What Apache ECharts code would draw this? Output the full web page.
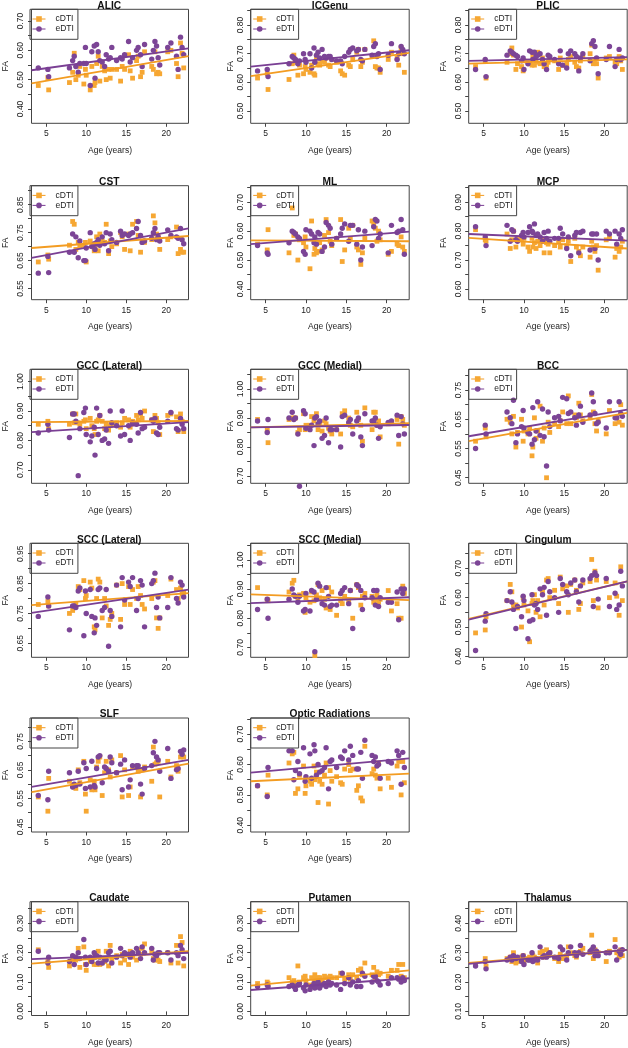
<!DOCTYPE html>
<html><head><meta charset="utf-8">
<script src="https://cdn.jsdelivr.net/npm/echarts@6/dist/echarts.min.js"></script>
<style>html,body{margin:0;padding:0;background:#fff}#c{width:628px;height:1048px}</style>
</head><body><div id="c"></div>
<script>
// ---- DATA ----
const ages = [4.0,5.2,5.3,7.9,8.3,8.5,8.7,9.0,9.2,9.7,9.9,10.0,10.5,10.7,11.0,11.1,11.3,11.5,11.7,12.0,12.3,12.5,12.8,13.0,13.2,13.8,14.3,14.5,14.8,15.3,15.5,15.8,16.3,16.5,16.8,17.0,17.3,18.2,18.4,18.6,18.8,19.0,19.2,20.2,20.6,21.3,21.5,21.8,22.0,22.2];
const titles = ['ALIC','ICGenu','PLIC','CST','ML','MCP','GCC (Lateral)','GCC (Medial)','BCC','SCC (Lateral)','SCC (Medial)','Cingulum','SLF','Optic Radiations','Caudate','Putamen','Thalamus'];
const seriesNames = ['cDTI','eDTI'];
const xTicks = [5,10,15,20];
const xMin = 3.15, xMax = 22.8;
const yMin = [0.351,0.457,0.457,0.51,0.363,0.563,0.654,0.675,0.431,0.603,0.666,0.397,0.432,0.378,-0.014,-0.014,0.086];
const yMax = [0.740,0.855,0.855,0.918,0.757,0.957,1.042,1.068,0.821,0.985,1.057,0.785,0.832,0.753,0.374,0.374,0.474];
const cFitL = [0.487,0.622,0.665,0.695,0.568,0.777,0.862,0.868,0.575,0.778,0.882,0.528,0.572,0.545,0.163,0.088,0.265];
const cFitR = [0.580,0.703,0.680,0.738,0.565,0.740,0.866,0.882,0.672,0.818,0.862,0.655,0.672,0.570,0.205,0.140,0.310];
const eFitL = [0.532,0.655,0.675,0.660,0.555,0.790,0.828,0.868,0.592,0.752,0.852,0.525,0.590,0.573,0.178,0.073,0.262];
const eFitR = [0.607,0.712,0.688,0.765,0.598,0.767,0.862,0.876,0.683,0.830,0.872,0.655,0.685,0.620,0.200,0.113,0.310];

const ALIC_c = [0.48,0.507,0.465,0.49,0.525,0.59,0.50,0.515,0.545,0.485,0.535,0.515,0.465,0.545,0.48,0.49,0.555,0.58,0.495,0.545,0.53,0.50,0.535,0.505,0.535,0.535,0.495,0.545,0.535,0.585,0.53,0.505,0.565,0.58,0.51,0.525,0.595,0.545,0.535,0.595,0.52,0.525,0.52,0.595,0.60,0.555,0.51,0.625,0.59,0.54];
const ALIC_e = [0.54,0.535,0.51,0.54,0.565,0.58,0.545,0.525,0.555,0.555,0.61,0.555,0.48,0.595,0.615,0.505,0.62,0.595,0.565,0.56,0.545,0.585,0.57,0.575,0.61,0.565,0.575,0.57,0.585,0.63,0.56,0.575,0.60,0.61,0.585,0.545,0.62,0.57,0.60,0.63,0.615,0.575,0.55,0.61,0.625,0.58,0.535,0.645,0.61,0.585];
const ICGenu_c = [0.615,0.63,0.575,0.61,0.665,0.695,0.67,0.625,0.66,0.63,0.655,0.645,0.635,0.66,0.63,0.625,0.685,0.665,0.66,0.675,0.67,0.685,0.66,0.655,0.68,0.67,0.64,0.63,0.625,0.66,0.655,0.68,0.705,0.715,0.655,0.67,0.715,0.69,0.745,0.655,0.65,0.65,0.635,0.68,0.705,0.685,0.66,0.72,0.70,0.635];
const ICGenu_e = [0.64,0.645,0.62,0.665,0.69,0.685,0.68,0.665,0.675,0.70,0.68,0.67,0.70,0.65,0.72,0.67,0.695,0.705,0.685,0.715,0.69,0.685,0.69,0.69,0.68,0.675,0.675,0.665,0.69,0.705,0.715,0.72,0.71,0.715,0.68,0.675,0.715,0.695,0.725,0.735,0.69,0.70,0.645,0.695,0.735,0.68,0.70,0.725,0.715,0.70];
const PLIC_c = [0.655,0.675,0.615,0.67,0.70,0.72,0.695,0.645,0.665,0.655,0.64,0.675,0.67,0.665,0.66,0.69,0.66,0.67,0.705,0.665,0.685,0.655,0.66,0.67,0.68,0.675,0.645,0.685,0.66,0.665,0.68,0.69,0.67,0.655,0.65,0.675,0.69,0.70,0.73,0.665,0.68,0.665,0.615,0.685,0.69,0.67,0.665,0.69,0.675,0.645];
const PLIC_e = [0.645,0.68,0.62,0.695,0.71,0.705,0.70,0.695,0.69,0.675,0.685,0.645,0.665,0.71,0.705,0.68,0.705,0.69,0.695,0.70,0.68,0.665,0.645,0.695,0.69,0.68,0.665,0.71,0.66,0.65,0.70,0.71,0.70,0.69,0.64,0.685,0.70,0.675,0.735,0.745,0.725,0.685,0.63,0.68,0.725,0.655,0.68,0.715,0.68,0.685];
const CST_c = [0.645,0.67,0.655,0.705,0.79,0.78,0.69,0.715,0.70,0.705,0.715,0.645,0.72,0.70,0.685,0.70,0.735,0.685,0.745,0.72,0.715,0.78,0.675,0.72,0.70,0.71,0.75,0.735,0.69,0.745,0.685,0.78,0.79,0.74,0.68,0.72,0.715,0.725,0.81,0.785,0.745,0.74,0.69,0.725,0.735,0.77,0.675,0.69,0.68,0.68];
const CST_e = [0.605,0.665,0.607,0.68,0.745,0.68,0.735,0.66,0.72,0.65,0.65,0.695,0.75,0.70,0.71,0.69,0.715,0.725,0.705,0.735,0.71,0.75,0.685,0.745,0.725,0.715,0.755,0.74,0.745,0.74,0.745,0.75,0.765,0.79,0.74,0.715,0.72,0.73,0.75,0.765,0.725,0.735,0.72,0.76,0.74,0.735,0.73,0.765,0.725,0.71];
const ML_c = [0.555,0.535,0.605,0.525,0.68,0.585,0.59,0.50,0.57,0.56,0.58,0.545,0.47,0.635,0.52,0.54,0.525,0.53,0.56,0.535,0.585,0.64,0.595,0.565,0.55,0.575,0.64,0.495,0.535,0.61,0.575,0.62,0.545,0.535,0.485,0.525,0.575,0.635,0.625,0.61,0.565,0.60,0.57,0.52,0.53,0.555,0.55,0.58,0.545,0.53];
const ML_e = [0.55,0.525,0.52,0.56,0.60,0.595,0.59,0.58,0.575,0.53,0.52,0.605,0.60,0.59,0.56,0.58,0.555,0.595,0.59,0.53,0.545,0.63,0.62,0.61,0.555,0.575,0.59,0.61,0.625,0.565,0.62,0.62,0.555,0.605,0.50,0.545,0.60,0.55,0.615,0.64,0.635,0.575,0.59,0.525,0.62,0.595,0.60,0.64,0.605,0.52];
const MCP_c = [0.805,0.77,0.765,0.79,0.74,0.77,0.80,0.745,0.775,0.77,0.755,0.775,0.745,0.73,0.775,0.745,0.76,0.74,0.765,0.75,0.77,0.725,0.76,0.755,0.725,0.75,0.765,0.745,0.77,0.75,0.765,0.695,0.775,0.745,0.73,0.715,0.745,0.71,0.765,0.745,0.73,0.75,0.665,0.77,0.775,0.71,0.74,0.73,0.745,0.765];
const MCP_e = [0.815,0.78,0.75,0.82,0.765,0.805,0.80,0.77,0.765,0.785,0.795,0.78,0.795,0.815,0.80,0.795,0.825,0.785,0.79,0.78,0.765,0.795,0.775,0.80,0.765,0.775,0.775,0.81,0.79,0.74,0.78,0.715,0.785,0.795,0.725,0.795,0.80,0.735,0.79,0.79,0.74,0.79,0.70,0.80,0.79,0.80,0.755,0.79,0.775,0.805];
const GCCL_c = [0.855,0.865,0.84,0.855,0.89,0.86,0.89,0.86,0.855,0.865,0.87,0.84,0.875,0.85,0.84,0.82,0.865,0.87,0.885,0.865,0.84,0.855,0.835,0.85,0.855,0.86,0.845,0.86,0.875,0.87,0.845,0.865,0.885,0.87,0.89,0.875,0.90,0.87,0.83,0.885,0.875,0.86,0.82,0.885,0.89,0.88,0.83,0.89,0.865,0.83];
const GCCL_e = [0.825,0.855,0.835,0.81,0.89,0.89,0.865,0.68,0.84,0.895,0.91,0.82,0.795,0.815,0.845,0.75,0.91,0.82,0.885,0.80,0.805,0.835,0.79,0.90,0.86,0.85,0.815,0.90,0.82,0.85,0.80,0.86,0.855,0.825,0.895,0.84,0.845,0.87,0.865,0.875,0.825,0.82,0.845,0.865,0.895,0.84,0.835,0.875,0.855,0.84];
const GCCM_c = [0.895,0.86,0.815,0.895,0.90,0.90,0.90,0.85,0.86,0.915,0.86,0.875,0.875,0.905,0.89,0.90,0.915,0.86,0.885,0.855,0.89,0.88,0.865,0.855,0.845,0.86,0.845,0.915,0.925,0.90,0.875,0.87,0.92,0.895,0.875,0.82,0.935,0.86,0.92,0.92,0.875,0.89,0.835,0.88,0.885,0.895,0.81,0.905,0.895,0.875];
const GCCM_e = [0.89,0.85,0.895,0.90,0.92,0.895,0.90,0.845,0.665,0.925,0.915,0.865,0.86,0.875,0.805,0.90,0.905,0.88,0.89,0.83,0.84,0.90,0.815,0.86,0.86,0.86,0.80,0.905,0.91,0.885,0.895,0.845,0.89,0.90,0.835,0.805,0.915,0.89,0.89,0.90,0.875,0.83,0.87,0.885,0.89,0.91,0.84,0.905,0.88,0.845];
const BCC_c = [0.575,0.62,0.59,0.65,0.64,0.60,0.66,0.555,0.605,0.65,0.575,0.61,0.60,0.62,0.525,0.555,0.655,0.585,0.61,0.695,0.575,0.62,0.45,0.64,0.605,0.635,0.625,0.645,0.675,0.635,0.73,0.635,0.665,0.655,0.705,0.665,0.645,0.655,0.735,0.675,0.635,0.61,0.645,0.60,0.68,0.635,0.655,0.64,0.70,0.63];
const BCC_e = [0.55,0.63,0.60,0.675,0.655,0.635,0.715,0.57,0.60,0.625,0.68,0.62,0.605,0.60,0.565,0.69,0.58,0.61,0.71,0.595,0.685,0.59,0.49,0.675,0.625,0.655,0.66,0.645,0.725,0.72,0.67,0.675,0.655,0.63,0.665,0.695,0.64,0.665,0.74,0.71,0.67,0.635,0.64,0.62,0.71,0.655,0.655,0.71,0.67,0.66];
const SCCL_c = [0.78,0.79,0.775,0.75,0.76,0.77,0.78,0.84,0.83,0.86,0.80,0.81,0.855,0.835,0.705,0.695,0.80,0.865,0.855,0.735,0.80,0.775,0.71,0.73,0.75,0.845,0.73,0.85,0.78,0.84,0.78,0.83,0.80,0.84,0.81,0.78,0.765,0.80,0.855,0.86,0.735,0.70,0.735,0.81,0.865,0.83,0.80,0.835,0.815,0.82];
const SCCL_e = [0.74,0.805,0.775,0.695,0.775,0.775,0.77,0.825,0.835,0.675,0.825,0.75,0.83,0.74,0.685,0.735,0.71,0.83,0.835,0.76,0.77,0.83,0.64,0.76,0.74,0.845,0.705,0.87,0.795,0.855,0.84,0.87,0.76,0.80,0.86,0.845,0.705,0.85,0.86,0.885,0.77,0.805,0.735,0.77,0.87,0.80,0.785,0.855,0.845,0.805];
const SCCM_c = [0.905,0.865,0.86,0.89,0.92,0.93,0.875,0.87,0.88,0.885,0.82,0.87,0.855,0.89,0.86,0.672,0.88,0.915,0.87,0.895,0.865,0.835,0.905,0.83,0.89,0.81,0.86,0.85,0.875,0.86,0.895,0.80,0.915,0.905,0.845,0.875,0.885,0.875,0.855,0.865,0.88,0.855,0.865,0.895,0.825,0.85,0.80,0.80,0.91,0.885];
const SCCM_e = [0.83,0.865,0.80,0.865,0.90,0.88,0.875,0.855,0.875,0.825,0.83,0.885,0.825,0.895,0.89,0.685,0.865,0.92,0.91,0.85,0.845,0.905,0.875,0.84,0.845,0.845,0.885,0.895,0.905,0.85,0.895,0.765,0.915,0.91,0.895,0.83,0.87,0.87,0.895,0.845,0.895,0.84,0.87,0.855,0.855,0.89,0.795,0.90,0.885,0.90];
const CING_c = [0.48,0.49,0.535,0.59,0.645,0.62,0.575,0.575,0.565,0.50,0.60,0.575,0.555,0.45,0.58,0.59,0.61,0.55,0.59,0.535,0.62,0.575,0.66,0.665,0.60,0.625,0.58,0.67,0.63,0.64,0.55,0.645,0.66,0.625,0.56,0.58,0.65,0.655,0.73,0.59,0.69,0.66,0.565,0.655,0.60,0.65,0.605,0.54,0.705,0.59];
const CING_e = [0.42,0.52,0.545,0.59,0.62,0.585,0.56,0.495,0.57,0.535,0.605,0.59,0.46,0.52,0.61,0.525,0.575,0.58,0.56,0.63,0.61,0.635,0.54,0.655,0.62,0.60,0.55,0.665,0.645,0.62,0.61,0.65,0.66,0.62,0.585,0.64,0.66,0.665,0.675,0.57,0.685,0.675,0.595,0.665,0.57,0.615,0.56,0.575,0.69,0.64];
const SLF_c = [0.555,0.505,0.62,0.61,0.595,0.59,0.585,0.65,0.605,0.68,0.565,0.505,0.615,0.58,0.61,0.58,0.66,0.68,0.695,0.56,0.64,0.68,0.65,0.625,0.685,0.64,0.70,0.555,0.65,0.56,0.59,0.66,0.66,0.645,0.555,0.65,0.66,0.61,0.73,0.67,0.675,0.68,0.555,0.68,0.625,0.665,0.645,0.695,0.70,0.695];
const SLF_e = [0.56,0.545,0.645,0.64,0.59,0.60,0.595,0.645,0.60,0.675,0.585,0.655,0.59,0.68,0.595,0.59,0.655,0.695,0.70,0.605,0.66,0.655,0.645,0.695,0.675,0.64,0.67,0.58,0.685,0.59,0.615,0.665,0.665,0.665,0.60,0.565,0.655,0.665,0.71,0.75,0.695,0.685,0.645,0.725,0.62,0.65,0.655,0.715,0.705,0.72];
const OPT_c = [0.53,0.50,0.565,0.605,0.635,0.64,0.505,0.52,0.565,0.595,0.505,0.53,0.545,0.535,0.595,0.55,0.575,0.475,0.545,0.535,0.565,0.605,0.47,0.58,0.545,0.56,0.54,0.535,0.585,0.60,0.58,0.585,0.515,0.53,0.49,0.48,0.66,0.57,0.585,0.565,0.555,0.605,0.52,0.555,0.525,0.595,0.61,0.50,0.61,0.54];
const OPT_e = [0.53,0.495,0.59,0.645,0.645,0.55,0.58,0.61,0.57,0.655,0.545,0.56,0.635,0.555,0.665,0.645,0.565,0.60,0.575,0.58,0.59,0.655,0.52,0.61,0.615,0.59,0.625,0.62,0.645,0.615,0.66,0.63,0.585,0.585,0.64,0.555,0.68,0.63,0.61,0.625,0.595,0.60,0.555,0.61,0.605,0.645,0.63,0.535,0.64,0.59];
const CAUD_c = [0.21,0.17,0.15,0.155,0.175,0.185,0.175,0.215,0.15,0.22,0.16,0.14,0.17,0.18,0.16,0.195,0.16,0.205,0.16,0.165,0.17,0.205,0.155,0.225,0.175,0.19,0.165,0.195,0.175,0.16,0.205,0.185,0.175,0.21,0.195,0.215,0.23,0.205,0.18,0.175,0.19,0.175,0.17,0.20,0.165,0.225,0.165,0.255,0.235,0.155];
const CAUD_e = [0.205,0.165,0.185,0.17,0.19,0.16,0.185,0.20,0.18,0.245,0.185,0.16,0.185,0.17,0.20,0.185,0.19,0.165,0.185,0.165,0.18,0.175,0.20,0.205,0.165,0.185,0.215,0.19,0.20,0.195,0.185,0.20,0.215,0.20,0.18,0.22,0.20,0.215,0.175,0.195,0.19,0.20,0.20,0.20,0.175,0.20,0.19,0.225,0.21,0.18];
const PUT_c = [0.095,0.10,0.095,0.115,0.10,0.105,0.09,0.155,0.10,0.115,0.12,0.105,0.09,0.115,0.11,0.125,0.10,0.115,0.115,0.105,0.12,0.115,0.10,0.12,0.115,0.115,0.13,0.125,0.11,0.125,0.11,0.125,0.115,0.14,0.145,0.125,0.165,0.125,0.15,0.115,0.135,0.125,0.13,0.12,0.14,0.14,0.16,0.12,0.16,0.115];
const PUT_e = [0.085,0.09,0.085,0.085,0.09,0.085,0.075,0.09,0.095,0.08,0.07,0.09,0.075,0.085,0.095,0.08,0.09,0.10,0.08,0.09,0.095,0.085,0.10,0.09,0.095,0.09,0.075,0.13,0.095,0.115,0.09,0.10,0.085,0.105,0.085,0.13,0.12,0.10,0.12,0.12,0.105,0.10,0.09,0.095,0.115,0.115,0.11,0.10,0.115,0.105];
const THAL_c = [0.26,0.28,0.255,0.28,0.285,0.27,0.30,0.265,0.27,0.285,0.29,0.27,0.28,0.285,0.275,0.29,0.285,0.28,0.265,0.30,0.305,0.285,0.31,0.29,0.30,0.28,0.27,0.295,0.28,0.29,0.32,0.30,0.29,0.285,0.30,0.305,0.315,0.30,0.36,0.28,0.31,0.295,0.30,0.27,0.305,0.345,0.30,0.285,0.31,0.29];
const THAL_e = [0.255,0.27,0.245,0.275,0.285,0.275,0.29,0.28,0.285,0.27,0.29,0.26,0.275,0.275,0.30,0.27,0.275,0.28,0.275,0.32,0.285,0.29,0.285,0.295,0.30,0.285,0.28,0.32,0.31,0.275,0.30,0.32,0.30,0.29,0.30,0.325,0.295,0.305,0.31,0.32,0.29,0.305,0.29,0.30,0.30,0.32,0.275,0.305,0.295,0.31];

const cData = [ALIC_c,ICGenu_c,PLIC_c,CST_c,ML_c,MCP_c,GCCL_c,GCCM_c,BCC_c,SCCL_c,SCCM_c,CING_c,SLF_c,OPT_c,CAUD_c,PUT_c,THAL_c];
const eData = [ALIC_e,ICGenu_e,PLIC_e,CST_e,ML_e,MCP_e,GCCL_e,GCCM_e,BCC_e,SCCL_e,SCCM_e,CING_e,SLF_e,OPT_e,CAUD_e,PUT_e,THAL_e];

// ---- LAYOUT / STYLE ----
const ORANGE = '#F6A733', PURPLE = '#7C4596';
const ORANGE_L = '#F39C22', PURPLE_L = '#7A3F94';
const FONT = '"Liberation Sans", Arial, Helvetica, sans-serif';
const colLeft = [30, 250.7, 468.7];
const rowTop = [9.3, 185.7, 369.3, 543.3, 718, 901.7];
const faGap = [21.5, 15, 21];
const W = 158.5, H = 114;
const slots = [[0,0],[0,1],[0,2],[1,0],[1,1],[1,2],[2,0],[2,1],[2,2],[3,0],[3,1],[3,2],[4,0],[4,1],[5,0],[5,1],[5,2]];

function yTickValues(mn, mx){
  const out = [];
  for (let k = Math.ceil(mn/0.05 - 1e-6); k*0.05 <= mx + 1e-9; k++) out.push(+(k*0.05).toFixed(2));
  return out;
}

const grids=[], xAxes=[], yAxes=[], titleArr=[], legends=[], series=[];
titles.forEach((t,i)=>{
  const [r,c] = slots[i];
  const L = colLeft[c], T = rowTop[r];
  grids.push({left:L, top:T, width:W, height:H, show:true, borderColor:'#444', borderWidth:1, backgroundColor:'transparent'});
  xAxes.push({type:'value', gridIndex:i, min:xMin, max:xMax, splitLine:{show:false}, axisLine:{show:false},
    axisTick:{show:true, customValues:xTicks, length:3.5, lineStyle:{color:'#444', width:1}},
    axisLabel:{customValues:xTicks, margin:6, fontSize:8.5, color:'#222', fontFamily:FONT},
    name:'Age (years)', nameLocation:'middle', nameGap:22.5, nameTextStyle:{fontSize:8.5, color:'#222', fontFamily:FONT}});
  const yt = yTickValues(yMin[i], yMax[i]);
  const yl = yt.filter((_,k)=>k%2===0);
  yAxes.push({type:'value', gridIndex:i, min:yMin[i], max:yMax[i], splitLine:{show:false}, axisLine:{show:false},
    axisTick:{show:true, customValues:yt, length:3.5, lineStyle:{color:'#444', width:1}},
    axisLabel:{customValues:yl, rotate:90, margin:6, fontSize:8.5, color:'#222', fontFamily:FONT, formatter:v=>v.toFixed(2)},
    name:'FA', nameLocation:'middle', nameRotate:90, nameGap:faGap[c], nameTextStyle:{fontSize:8.5, color:'#222', fontFamily:FONT}});
  titleArr.push({text:t, left:L + W/2, top:T - 8.5, textAlign:'center', padding:0,
    textStyle:{fontSize:10.2, fontWeight:'bold', color:'#111', fontFamily:FONT}});
  legends.push({data:seriesNames, left:L, top:T, orient:'vertical', itemWidth:13, itemHeight:7, itemGap:0,
    padding:[4.7,4,5.3,2], borderColor:'#444', borderWidth:1, backgroundColor:'transparent', selectedMode:false,
    lineStyle:{width:1}, textStyle:{fontSize:8.5, lineHeight:10, color:'#222', fontFamily:FONT, padding:[0,0,0,5]}});
  // regression lines (first, so legend takes their line+symbol icon)
  series.push({type:'line', name:'cDTI', xAxisIndex:i, yAxisIndex:i, data:[[xMin,cFitL[i]],[xMax,cFitR[i]]],
    symbol:'rect', showSymbol:false, silent:true, z:4, lineStyle:{color:ORANGE_L, width:1.8}, itemStyle:{color:ORANGE}});
  series.push({type:'line', name:'eDTI', xAxisIndex:i, yAxisIndex:i, data:[[xMin,eFitL[i]],[xMax,eFitR[i]]],
    symbol:'circle', showSymbol:false, silent:true, z:5, lineStyle:{color:PURPLE_L, width:1.8}, itemStyle:{color:PURPLE}});
  series.push({type:'scatter', name:'cDTI', xAxisIndex:i, yAxisIndex:i, clip:false, z:2,
    data:ages.map((a,k)=>[a,cData[i][k]]), symbol:'rect', symbolSize:4.8, itemStyle:{color:ORANGE, opacity:1}});
  series.push({type:'scatter', name:'eDTI', xAxisIndex:i, yAxisIndex:i, clip:false, z:3,
    data:ages.map((a,k)=>[a,eData[i][k]]), symbol:'circle', symbolSize:5.4, itemStyle:{color:PURPLE, opacity:1}});
});

const chart = echarts.init(document.getElementById('c'), null, {renderer:'canvas'});
chart.setOption({
  animation:false, backgroundColor:'#fff',
  textStyle:{fontFamily:FONT},
  title:titleArr, legend:legends, grid:grids, xAxis:xAxes, yAxis:yAxes, series:series
});
</script>
</body></html>
